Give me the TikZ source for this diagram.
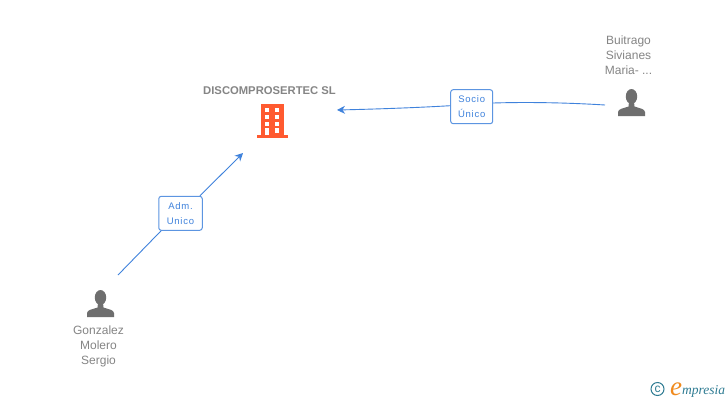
\documentclass[tikz,border=0pt]{standalone}
\usepackage{fontspec}
\setmainfont{Liberation Sans}
\newfontfamily\boxfont[LetterSpace=8]{Liberation Sans}
\newfontfamily\logofont{Liberation Serif}
\usetikzlibrary{arrows.meta, positioning}

\definecolor{linkblue}{HTML}{3F82DC}
\definecolor{namegray}{HTML}{858585}
\definecolor{icongray}{HTML}{6E6E6E}
\definecolor{buildorange}{HTML}{FF5A30}
\definecolor{logoteal}{HTML}{2F7C93}
\definecolor{logoorange}{HTML}{F08A1D}

\tikzset{
  personname/.style={text=namegray, font=\fontsize{12}{15}\selectfont, align=center, inner sep=0pt},
  linkbox/.style={draw=linkblue!85, line width=1pt, rounded corners=2.5pt, fill=white, text=linkblue,
    font=\boxfont\fontsize{9.5}{15}\selectfont, align=center, inner sep=0pt, minimum height=34pt},
  linkline/.style={draw=linkblue, line width=0.9pt},
  linkarrow/.style={linkline, -{Stealth[length=8pt, width=8pt]}},
  personicon/.pic={
    \fill[icongray] (-2.5,13) -- (-3,17.5) .. controls (-8,19.5) and (-13,19.5) .. (-13.5,23) -- (-13.5,27) -- (13.5,27) -- (13.5,23)
      .. controls (13,19.5) and (8,19.5) .. (3,17.5) -- (2.5,13) -- cycle;
    \fill[icongray] (0,7.5) ellipse [x radius=5.7, y radius=7.5];
  }
}

\begin{document}
\begin{tikzpicture}[x=1pt, y=-1pt]
\useasboundingbox[fill=white] (0,0) rectangle (728,400);

\node[text=namegray, font=\bfseries\fontsize{11.25}{15}\selectfont, inner sep=0pt] at (269.5,90.5) (disco) {DISCOMPROSERTEC SL};

% building
\fill[buildorange] (261,104) rectangle (283.7,135);
\fill[buildorange] (256.7,135) rectangle (287.7,137.7);
\foreach \rowy in {108,115,121.5} {
  \fill[white] (264.7,\rowy) rectangle ++(4.6,4.3);
  \fill[white] (274.7,\rowy) rectangle ++(4.6,4.3);
}
\fill[white] (265.2,128.3) rectangle (269.3,135);
\fill[white] (274.7,128.3) rectangle ++(4.6,4.2);

% people
\pic at (631.5,89) {personicon};
\pic at (100.5,290) {personicon};
\node[personname] at (628.5,55) (buitrago) {Buitrago\\Sivianes\\Maria- ...};
\node[personname] at (98.5,346) (gonzalez) {Gonzalez\\Molero\\Sergio};

% links
\coordinate (buitrago_end) at (605,105);
\coordinate (disco_right) at (337,110);
\coordinate (gonzalez_end) at (118,275);
\coordinate (disco_below) at (243,153);

\node[linkbox, minimum width=42pt] at (471.7,106.7) (socio) {\raisebox{-2pt}{Socio}\\\raisebox{-2pt}{Único}};
\node[linkbox, minimum width=43.5pt] at (180.5,213.3) (adm) {\raisebox{-2pt}{Adm.}\\\raisebox{-2pt}{Unico}};

\draw[linkline] (buitrago_end) .. controls (565,102.5) and (525,102) .. ([yshift=3.7pt]socio.east);
\draw[linkarrow] ([yshift=1pt]socio.west) .. controls (420,107.5) and (380,109) .. (disco_right);
\draw[linkline] (gonzalez_end) -- (adm.222);
\draw[linkarrow] (adm.42) -- (disco_below);

% logo
\node[draw=logoteal, line width=1pt, circle, minimum size=13pt, inner sep=0pt, text=logoteal, font=\fontsize{12}{12}\selectfont] at (657.5,389) (copyr) {c};
\node[text=logoorange, font=\logofont\itshape\fontsize{27}{27}\selectfont, inner sep=0pt, anchor=base west] at (670,395) (logo_e) {e};
\node[text=logoteal, font=\logofont\itshape\fontsize{13.5}{15}\selectfont, inner sep=0pt, anchor=base west] at (682,394) (logo_text) {mpresia};
\end{tikzpicture}
\end{document}
